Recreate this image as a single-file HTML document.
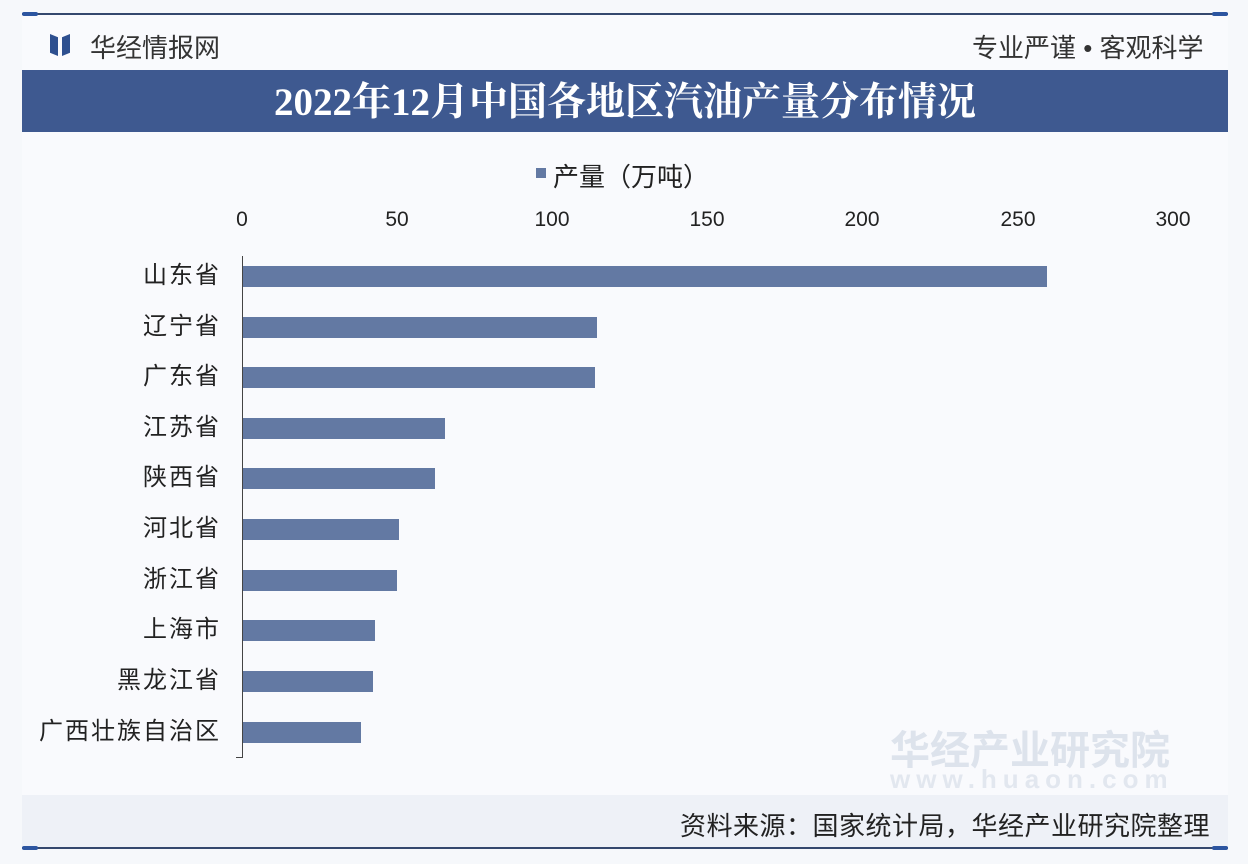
<!DOCTYPE html>
<html><head><meta charset="utf-8"><style>
body{margin:0;width:1248px;height:864px;background:#f6f8fb;position:relative;overflow:hidden;font-family:"Liberation Sans","Noto Sans CJK SC",sans-serif;}
.a{position:absolute;}
.lab{position:absolute;right:1027px;font-size:24px;letter-spacing:2px;color:#222;white-space:nowrap;line-height:24px;}
.bar{position:absolute;left:243px;height:21px;background:#6379a3;}
.tick{position:absolute;top:208px;font-size:21px;color:#222;transform:translateX(-50%);}
</style></head><body>
<div class="a" style="left:22px;top:15px;width:1206px;height:833px;background:#f9fafd"></div>
<div class="a" style="left:22px;top:13px;width:1206px;height:2px;background:#34486e"></div>
<div class="a" style="left:22px;top:12px;width:16px;height:4px;border-radius:2px;background:#2c55a0"></div>
<div class="a" style="left:1212px;top:12px;width:16px;height:4px;border-radius:2px;background:#2c55a0"></div>
<div class="a" style="left:50px;top:34px;width:8px;height:22px;background:#2d4f8f;clip-path:polygon(0 0,100% 15%,100% 100%,0 85%)"></div>
<div class="a" style="left:62px;top:34px;width:8px;height:22px;background:#2d4f8f;clip-path:polygon(0 15%,100% 0,100% 85%,0 100%)"></div>
<div class="a" style="left:90px;top:28px;font-size:26px;color:#333">华经情报网</div>
<div class="a" style="left:972px;top:28px;font-size:26px;color:#333;white-space:nowrap">专业严谨 • 客观科学</div>
<div class="a" style="left:22px;top:70px;width:1206px;height:62px;background:#3e5990"></div>
<div class="a" style="left:0px;top:79px;width:1250px;text-align:center;font-family:'Liberation Serif','Noto Serif CJK SC',serif;font-weight:bold;font-size:39px;line-height:48px;color:#fff;white-space:nowrap">2022年12月中国各地区汽油产量分布情况</div>
<div class="a" style="left:536px;top:168px;width:10px;height:10px;background:#6379a3"></div>
<div class="a" style="left:553px;top:157px;font-size:26px;color:#222">产量（万吨）</div>
<div class="tick" style="left:242px">0</div>
<div class="tick" style="left:397px">50</div>
<div class="tick" style="left:552px">100</div>
<div class="tick" style="left:707px">150</div>
<div class="tick" style="left:862px">200</div>
<div class="tick" style="left:1018px">250</div>
<div class="tick" style="left:1173px">300</div>
<div class="a" style="left:242px;top:256px;width:1px;height:502px;background:#444"></div>
<div class="a" style="left:236px;top:757px;width:7px;height:1px;background:#444"></div>
<div class="bar" style="top:266px;width:804px"></div><div class="lab" style="top:264px">山东省</div>
<div class="bar" style="top:317px;width:354px"></div><div class="lab" style="top:315px">辽宁省</div>
<div class="bar" style="top:367px;width:352px"></div><div class="lab" style="top:365px">广东省</div>
<div class="bar" style="top:418px;width:202px"></div><div class="lab" style="top:416px">江苏省</div>
<div class="bar" style="top:468px;width:192px"></div><div class="lab" style="top:466px">陕西省</div>
<div class="bar" style="top:519px;width:156px"></div><div class="lab" style="top:517px">河北省</div>
<div class="bar" style="top:570px;width:154px"></div><div class="lab" style="top:568px">浙江省</div>
<div class="bar" style="top:620px;width:132px"></div><div class="lab" style="top:618px">上海市</div>
<div class="bar" style="top:671px;width:130px"></div><div class="lab" style="top:669px">黑龙江省</div>
<div class="bar" style="top:722px;width:118px"></div><div class="lab" style="top:720px">广西壮族自治区</div>
<div class="a" style="left:22px;top:795px;width:1206px;height:52px;background:#eef1f7"></div>
<div class="a" style="right:38px;top:806px;font-size:26px;letter-spacing:0.5px;color:#222;white-space:nowrap">资料来源：国家统计局，华经产业研究院整理</div>
<div class="a" style="left:22px;top:847px;width:1206px;height:2px;background:#34486e"></div>
<div class="a" style="left:22px;top:846px;width:16px;height:4px;border-radius:2px;background:#2c55a0"></div>
<div class="a" style="left:1212px;top:846px;width:16px;height:4px;border-radius:2px;background:#2c55a0"></div>
<div class="a" style="left:890px;top:718px;font-size:40px;font-weight:bold;color:#dde3ec">华经产业研究院</div>
<div class="a" style="left:890px;top:764px;font-size:26px;font-weight:bold;color:#e2e7ef;letter-spacing:6px">www.huaon.com</div>
</body></html>
